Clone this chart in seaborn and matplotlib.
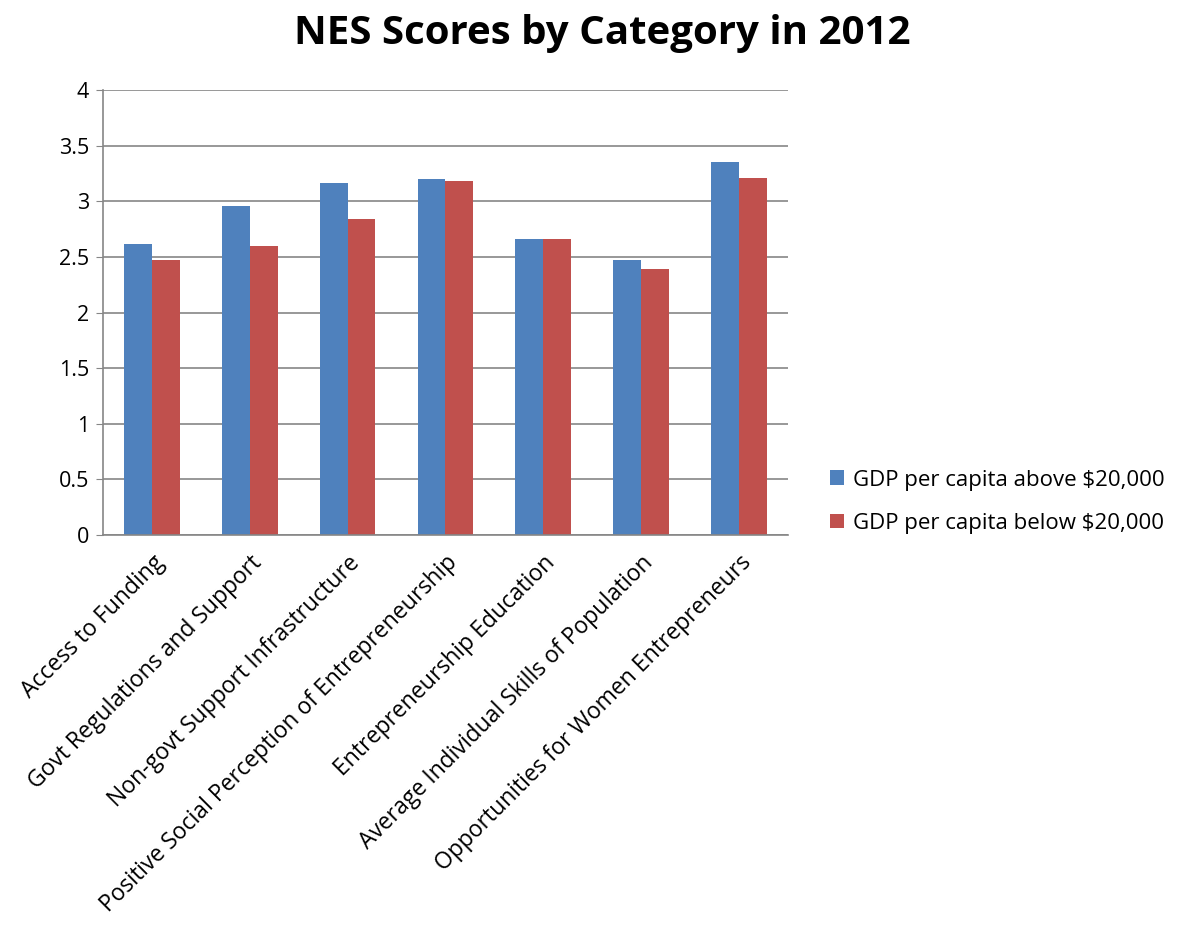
import matplotlib
matplotlib.use("Agg")
import matplotlib.pyplot as plt
import pandas as pd
import seaborn as sns

# data
categories = ["Access to Funding", "Govt Regulations and Support",
              "Non-govt Support Infrastructure",
              "Positive Social Perception of Entrepreneurship",
              "Entrepreneurship Education",
              "Average Individual Skills of Population",
              "Opportunities for Women Entrepreneurs"]
above = [2.62, 2.96, 3.16, 3.20, 2.66, 2.47, 3.35]
below = [2.47, 2.60, 2.84, 3.18, 2.66, 2.39, 3.21]
series = ["GDP per capita above $20,000", "GDP per capita below $20,000"]

df = pd.DataFrame({
    "category": categories * 2,
    "score": above + below,
    "group": [series[0]] * len(categories) + [series[1]] * len(categories),
})

sns.set_style("white")
plt.rcParams["font.family"] = ["Open Sans", "DejaVu Sans"]
plt.rcParams["text.color"] = "black"
plt.rcParams["xtick.color"] = "black"
plt.rcParams["ytick.color"] = "black"

fig = plt.figure(figsize=(11.93, 9.25), dpi=100)
ax = fig.add_axes([0.0863, 0.4216, 0.5742, 0.4811])

sns.barplot(data=df, x="category", y="score", hue="group",
            palette=["#4F81BD", "#C0504D"], width=0.57, gap=0,
            saturation=1, ax=ax, edgecolor="none")

ax.set_ylim(0, 4)
ax.set_yticks([0, 0.5, 1, 1.5, 2, 2.5, 3, 3.5, 4])
ax.set_yticklabels(["0", "0.5", "1", "1.5", "2", "2.5", "3", "3.5", "4"], fontsize=15.5)
ax.set_xlim(-0.5, len(categories) - 0.5)
ax.yaxis.grid(True, color="#868686", linewidth=1.2)
ax.set_axisbelow(True)
for s in ["top", "right"]:
    ax.spines[s].set_visible(False)
for s in ["left", "bottom"]:
    ax.spines[s].set_color("#868686")
    ax.spines[s].set_linewidth(1.2)
ax.tick_params(axis="y", left=True, length=5, color="#868686", pad=5)
ax.tick_params(axis="x", bottom=False, pad=8)
ax.set_xlabel("")
ax.set_ylabel("")
plt.setp(ax.get_xticklabels(), rotation=45, ha="right", rotation_mode="anchor",
         fontsize=16.5)

ax.legend(title=None, frameon=False, fontsize=16, loc="center left",
          bbox_to_anchor=(1.032, 0.075), handlelength=0.65, handleheight=0.65,
          handletextpad=0.4, labelspacing=1.0)

fig.suptitle("NES Scores by Category in 2012", fontsize=29, fontweight="bold",
             x=0.505, y=0.985)

fig.savefig("out.png", dpi=100)
